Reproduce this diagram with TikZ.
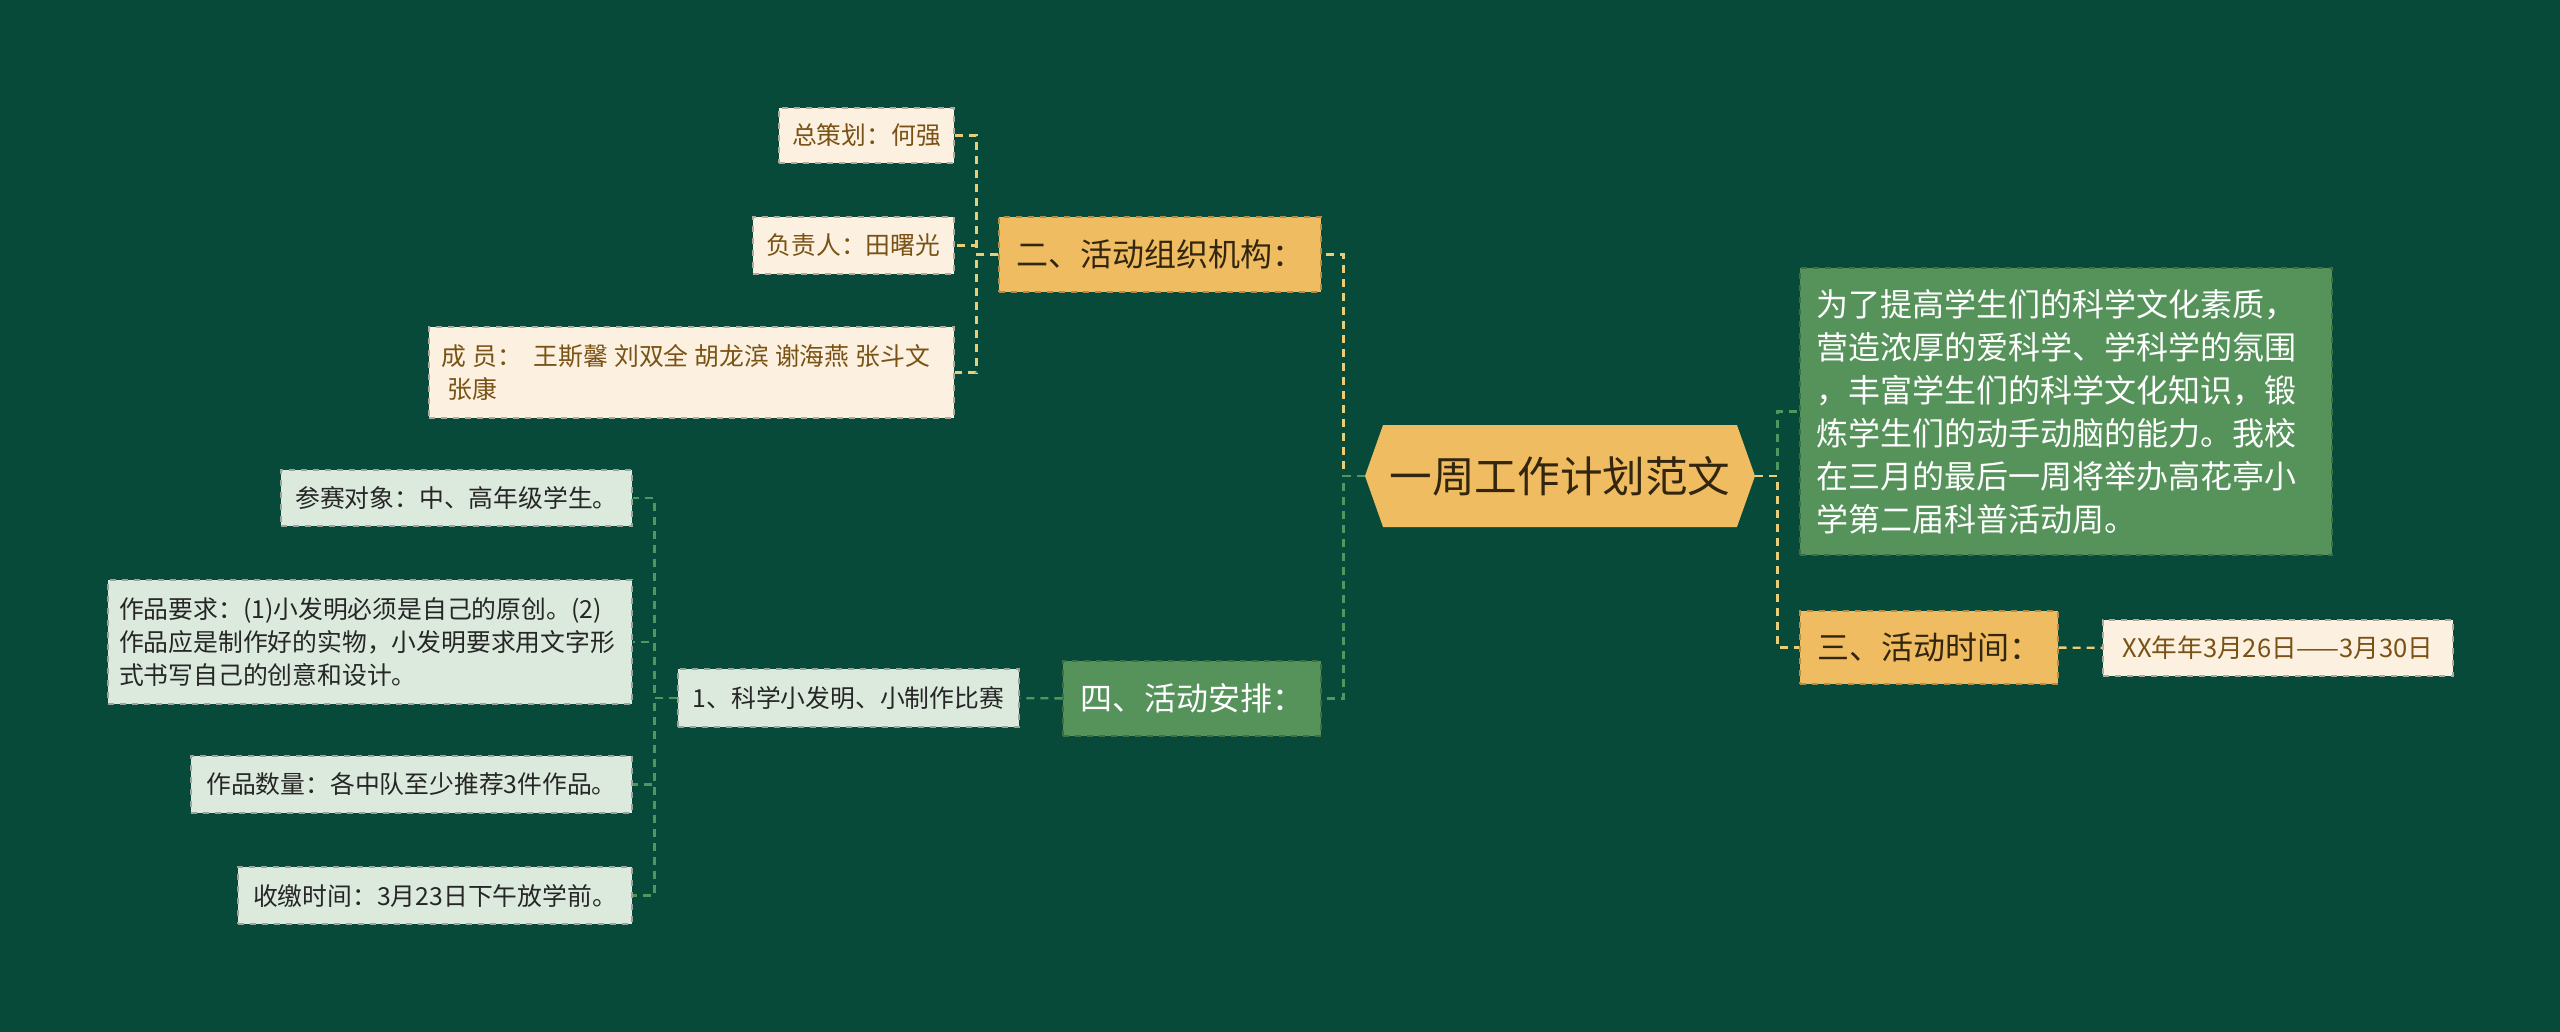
\documentclass[tikz,border=0pt]{standalone}
\usepackage{fontspec}
\setmainfont{Noto Sans CJK SC}
\usepackage{tikz}
\usetikzlibrary{shapes.symbols}
\definecolor{bgcol}{HTML}{084A39}
\definecolor{ocol}{HTML}{F0BC62}
\definecolor{ccol}{HTML}{FCF1E0}
\definecolor{gcol}{HTML}{56935B}
\definecolor{mcol}{HTML}{DCEADE}
\definecolor{ctxt}{HTML}{7A5215}
\definecolor{otxt}{HTML}{33260F}
\definecolor{olncol}{HTML}{EBCD78}
\definecolor{glncol}{HTML}{4F975E}
\newcommand{\gap}{\hspace{3pt}}

\begin{document}
\begin{tikzpicture}[x=0.5pt,y=-0.5pt,
  box/.style={draw,dashed,line width=0.6pt,inner sep=0pt,align=center},
  topic/.style={signal,signal to=west and east,signal pointer angle=141,fill=ocol,text=otxt,inner sep=0pt,minimum width=195pt,minimum height=51pt,font=\fontsize{21.3}{26}\selectfont},
  obox/.style={box,fill=ocol,draw=ocol!75!black,text=otxt,font=\fontsize{16}{20}\selectfont},
  gbox/.style={box,fill=gcol,draw=gcol!75!black,text=white,font=\fontsize{16}{21.5}\selectfont},
  cleaf/.style={box,fill=ccol,draw=ccol!70!black,text=ctxt,font=\fontsize{12.4}{16.3}\selectfont},
  mleaf/.style={box,fill=mcol,draw=mcol!70!black,text=black!85,font=\fontsize{12.4}{16.3}\selectfont},
  oln/.style={draw=olncol,line width=1.2pt,dash pattern=on 4pt off 3pt},
  gln/.style={draw=glncol,line width=1.2pt,dash pattern=on 4pt off 3pt}]
\useasboundingbox (0,0) rectangle (2560,1032);
\fill[bgcol] (0,0) rectangle (2560,1032);
% centre
\node[topic] (top) at (1560,476) {一周工作计划范文};
% right side
\node[gbox,minimum width=266pt,minimum height=143.5pt,text width=250pt,align=left] (s1) at (2066,411.5) {为了提高学生们的科学文化素质，\\营造浓厚的爱科学、学科学的氛围\\，丰富学生们的科学文化知识，锻\\炼学生们的动手动脑的能力。我校\\在三月的最后一周将举办高花亭小\\学第二届科普活动周。};
\node[obox,minimum width=129pt,minimum height=36.5pt] (s3) at (1929,647.5) {三、活动时间：};
\node[cleaf,minimum width=175pt,minimum height=28pt,font=\fontsize{12.8}{16.3}\selectfont] (s3a) at (2278,648) {XX年年3月26日——3月30日};
% left side, upper
\node[obox,minimum width=161pt,minimum height=37.5pt] (s2) at (1160,254.5) {二、活动组织机构：};
\node[cleaf,minimum width=87.5pt,minimum height=27.5pt] (s2a) at (866.5,135.5) {总策划：何强};
\node[cleaf,minimum width=100.5pt,minimum height=28.5pt] (s2b) at (853.5,245.5) {负责人：田曙光};
\node[cleaf,minimum width=262.5pt,minimum height=45.5pt,text width=250pt,align=left] (s2c) at (691.5,372.5) {\mbox{成\gap 员：\gap\gap 王斯馨\gap 刘双全\gap 胡龙滨\gap 谢海燕\gap 张斗文}\\\gap 张康};
% left side, lower
\node[gbox,minimum width=129pt,minimum height=37.5pt,font=\fontsize{16}{20}\selectfont] (s4) at (1192,698.5) {四、活动安排：};
\node[mleaf,minimum width=170.5pt,minimum height=29pt] (s4a) at (848.5,698) {1、科学小发明、小制作比赛};
\node[mleaf,minimum width=175.5pt,minimum height=28pt] (s4a1) at (456.5,498) {参赛对象：中、高年级学生。};
\node[mleaf,minimum width=262pt,minimum height=62pt,text width=251pt,align=left] (s4a2) at (370,642) {作品要求：(1)小发明必须是自己的原创。(2)\\作品应是制作好的实物，小发明要求用文字形\\式书写自己的创意和设计。};
\node[mleaf,minimum width=220.5pt,minimum height=28.5pt] (s4a3) at (411.5,784.5) {作品数量：各中队至少推荐3件作品。};
\node[mleaf,minimum width=197pt,minimum height=28.5pt] (s4a4) at (435,895.5) {收缴时间：3月23日下午放学前。};
% connectors
\draw[gln] (top.east) -- ++(22,0) |- (s1.west);
\draw[oln] (top.east) -- ++(22,0) |- (s3.west);
\draw[oln] (s3) -- (s3a);
\draw[oln] (top.west) -- ++(-21,0) |- (s2.east);
\draw[gln] (top.west) -- ++(-21,0) |- (s4.east);
\draw[oln] (s2.west) -- ++(-22,0) |- (s2a.east);
\draw[oln] (s2.west) -- ++(-22,0) |- (s2b.east);
\draw[oln] (s2.west) -- ++(-22,0) |- (s2c.east);
\draw[gln] (s4) -- (s4a);
\draw[gln] (s4a.west) -- ++(-23,0) |- (s4a1.east);
\draw[gln] (s4a.west) -- ++(-23,0) |- (s4a2.east);
\draw[gln] (s4a.west) -- ++(-23,0) |- (s4a3.east);
\draw[gln] (s4a.west) -- ++(-23,0) |- (s4a4.east);
\end{tikzpicture}
\end{document}
